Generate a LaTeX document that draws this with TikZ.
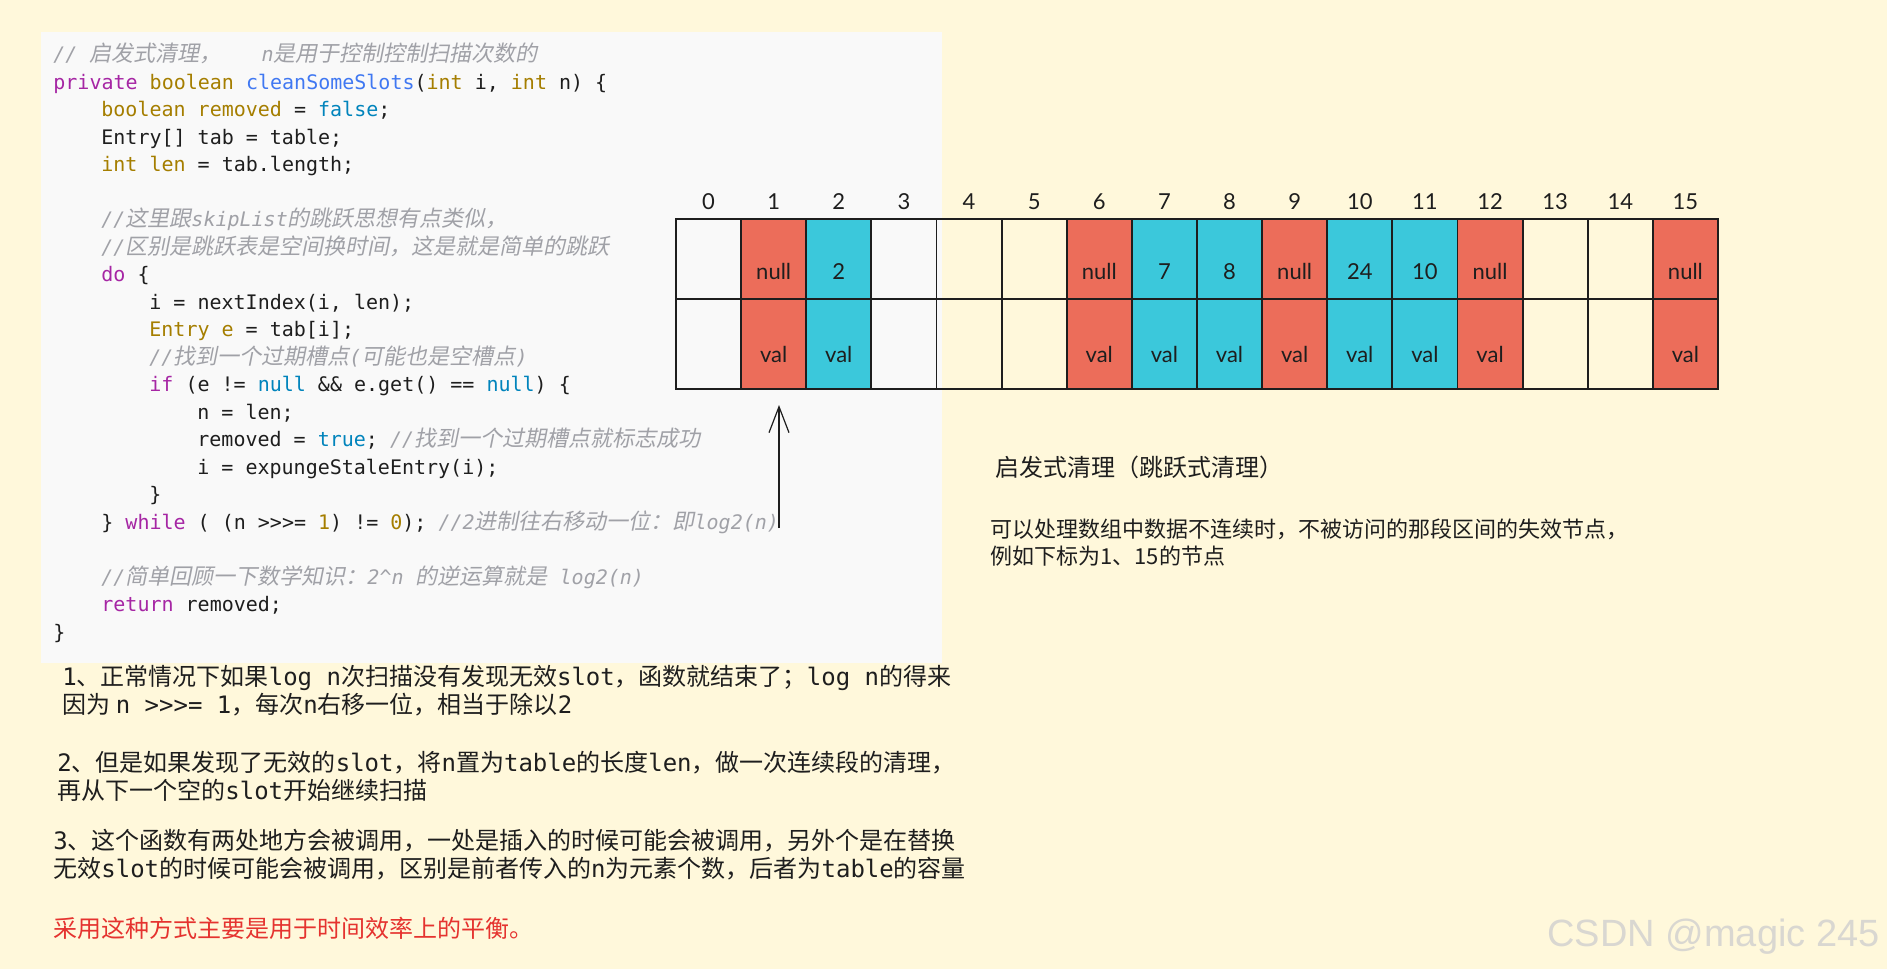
\documentclass[tikz,border=0pt]{standalone}
\usepackage{fontspec}
\setmonofont{DejaVu Sans Mono}
\newfontfamily\zhfont{Noto Sans CJK SC}
\newfontfamily\zhcodefont[Scale=1.1]{Noto Sans CJK SC}
\newfontfamily\zhslantfont[Scale=1.1,FakeSlant=0.2]{Noto Sans CJK SC}
\newfontfamily\handfont{Lato}
\newfontfamily\markfont{Liberation Sans}
\usetikzlibrary{arrows.meta,positioning}
\usepackage{xcolor}
\definecolor{paper}{HTML}{FFF8DB}
\definecolor{codebg}{HTML}{F9F9F9}
\definecolor{ink}{HTML}{1E1E1E}
\definecolor{slotred}{HTML}{EC6D5A}
\definecolor{slotcyan}{HTML}{3BC8DB}
\definecolor{kwpurple}{HTML}{A626A4}
\definecolor{kwtype}{HTML}{A57E00}
\definecolor{kwfunc}{HTML}{4078F2}
\definecolor{kwlit}{HTML}{0184BC}
\definecolor{comment}{HTML}{A0A1A7}
\definecolor{alert}{HTML}{E5332F}
\definecolor{markgray}{HTML}{D9D7D1}
% code highlighting helpers
\newcommand{\zhc}[1]{{\zhcodefont #1}}
\newcommand{\zhi}[1]{{\zhslantfont\upshape #1}}
\newcommand{\kw}[1]{\textcolor{kwpurple}{#1}}
\newcommand{\ty}[1]{\textcolor{kwtype}{#1}}
\newcommand{\fn}[1]{\textcolor{kwfunc}{#1}}
\newcommand{\lit}[1]{\textcolor{kwlit}{#1}}
\newcommand{\cm}[1]{{\color{comment}\itshape #1}}
\newcommand{\tok}[1]{{\ttfamily #1}}
\newcommand{\ind}{\hspace*{24pt}}
\tikzset{
  every node/.style={text=ink},
  codepanel/.style={fill=codebg,minimum width=450.5pt,minimum height=315.5pt,inner sep=0pt,anchor=north west},
  codetext/.style={align=left,inner sep=0pt,anchor=north west,font=\ttfamily\fontsize{10}{13.75}\selectfont},
  keycell/.style={draw=ink,line width=0.9pt,outer sep=0pt,inner sep=0pt,minimum width=32.56pt,minimum height=40pt,text height=20pt,text depth=0pt,font=\handfont\fontsize{11}{13}\selectfont},
  valcell/.style={keycell,minimum height=45pt,text height=18pt},
  idx/.style={font=\handfont\fontsize{11}{13}\selectfont},
  pointer/.style={-{Straight Barb[length=13pt,width=10pt]},line width=0.6pt,draw=ink,shorten >=8pt},
  heading/.style={anchor=west,inner sep=0pt,font=\zhfont\fontsize{12}{14}\selectfont},
  remark/.style={anchor=west,inner sep=0pt,align=left,font=\zhfont\fontsize{11}{13.5}\selectfont},
  note/.style={anchor=west,align=left,inner sep=0pt,font=\zhfont\fontsize{12}{14}\selectfont},
  watermark/.style={anchor=east,inner sep=0pt,text=markgray,font=\markfont\fontsize{19}{22}\selectfont},
}

\begin{document}
\begin{tikzpicture}[x=0.5pt,y=-0.5pt]

\useasboundingbox[fill=paper] (0,0) rectangle (1887,969);

% source listing
\node[codepanel] (panel) at (41,32) {};
\node[codetext] (src) at (53,43) {%
\cm{// \zhi{启发式清理，}\hspace*{20pt}n\zhi{是用于控制控制扫描次数的}}\\
\kw{private} \ty{boolean} \fn{cleanSomeSlots}(\ty{int} i, \ty{int} n) \{\\
\ind\ty{boolean} \ty{removed} = \lit{false};\\
\ind Entry[] tab = table;\\
\ind\ty{int} \ty{len} = tab.length;\\
\mbox{}\\
\ind\cm{//\zhi{这里跟}skipList\zhi{的跳跃思想有点类似，}}\\
\ind\cm{//\zhi{区别是跳跃表是空间换时间，这是就是简单的跳跃}}\\
\ind\kw{do} \{\\
\ind\ind i = nextIndex(i, len);\\
\ind\ind\ty{Entry} \ty{e} = tab[i];\\
\ind\ind\cm{//\zhi{找到一个过期槽点}(\zhi{可能也是空槽点})}\\
\ind\ind\kw{if} (e != \lit{null} \&\& e.get() == \lit{null}) \{\\
\ind\ind\ind n = len;\\
\ind\ind\ind removed = \lit{true}; \cm{//\zhi{找到一个过期槽点就标志成功}}\\
\ind\ind\ind i = expungeStaleEntry(i);\\
\ind\ind\}\\
\ind\} \kw{while} ( (n >>>= \ty{1}) != \ty{0}); \cm{//2\zhi{进制往右移动一位：即}log2(n)}\\
\mbox{}\\
\ind\cm{//\zhi{简单回顾一下数学知识：}2\^{}n \zhi{的逆运算就是} log2(n)}\\
\ind\kw{return} removed;\\
\}};

% slot table
\foreach \i/\key/\tone/\val in {0/{}/none/{},1/null/slotred/val,2/2/slotcyan/val,3/{}/none/{},4/{}/none/{},5/{}/none/{},6/null/slotred/val,7/7/slotcyan/val,8/8/slotcyan/val,9/null/slotred/val,10/24/slotcyan/val,11/10/slotcyan/val,12/null/slotred/val,13/{}/none/{},14/{}/none/{},15/null/slotred/val}{
  \node[keycell,fill=\tone] (k\i) at ({676+65.125*(\i+0.5)},259) {\key};
  \node[valcell,fill=\tone,below=0pt of k\i] (v\i) {\val};
  \node[idx,above=1pt of k\i] (n\i) {\i};
}

\coordinate (foot) at (779,528);
\draw[pointer] (foot) -- (foot |- v1.south);

\node[heading] (title) at (995,467) {启发式清理（跳跃式清理）};
\node[remark] (hint) at (990,543) {可以处理数组中数据不连续时，不被访问的那段区间的失效节点，\\例如下标为1、15的节点};

\node[note] (tip1) at (62,691) {\tok{1}、正常情况下如果\tok{log n}次扫描没有发现无效\tok{slot}，函数就结束了；\tok{log n}的得来\\因为 \tok{n >>>= 1}，每次\tok{n}右移一位，相当于除以\tok{2}};
\node[note] (tip2) at (57,776) {\tok{2}、但是如果发现了无效的\tok{slot}，将\tok{n}置为\tok{table}的长度\tok{len}，做一次连续段的清理，\\再从下一个空的\tok{slot}开始继续扫描};
\node[note] (tip3) at (53,855) {\tok{3}、这个函数有两处地方会被调用，一处是插入的时候可能会被调用，另外个是在替换\\无效\tok{slot}的时候可能会被调用，区别是前者传入的\tok{n}为元素个数，后者为\tok{table}的容量};
\node[note,text=alert] (verdict) at (53,928) {采用这种方式主要是用于时间效率上的平衡。};

\node[watermark] (mark) at (1880,937) {CSDN @magic 245};

\end{tikzpicture}
\end{document}
